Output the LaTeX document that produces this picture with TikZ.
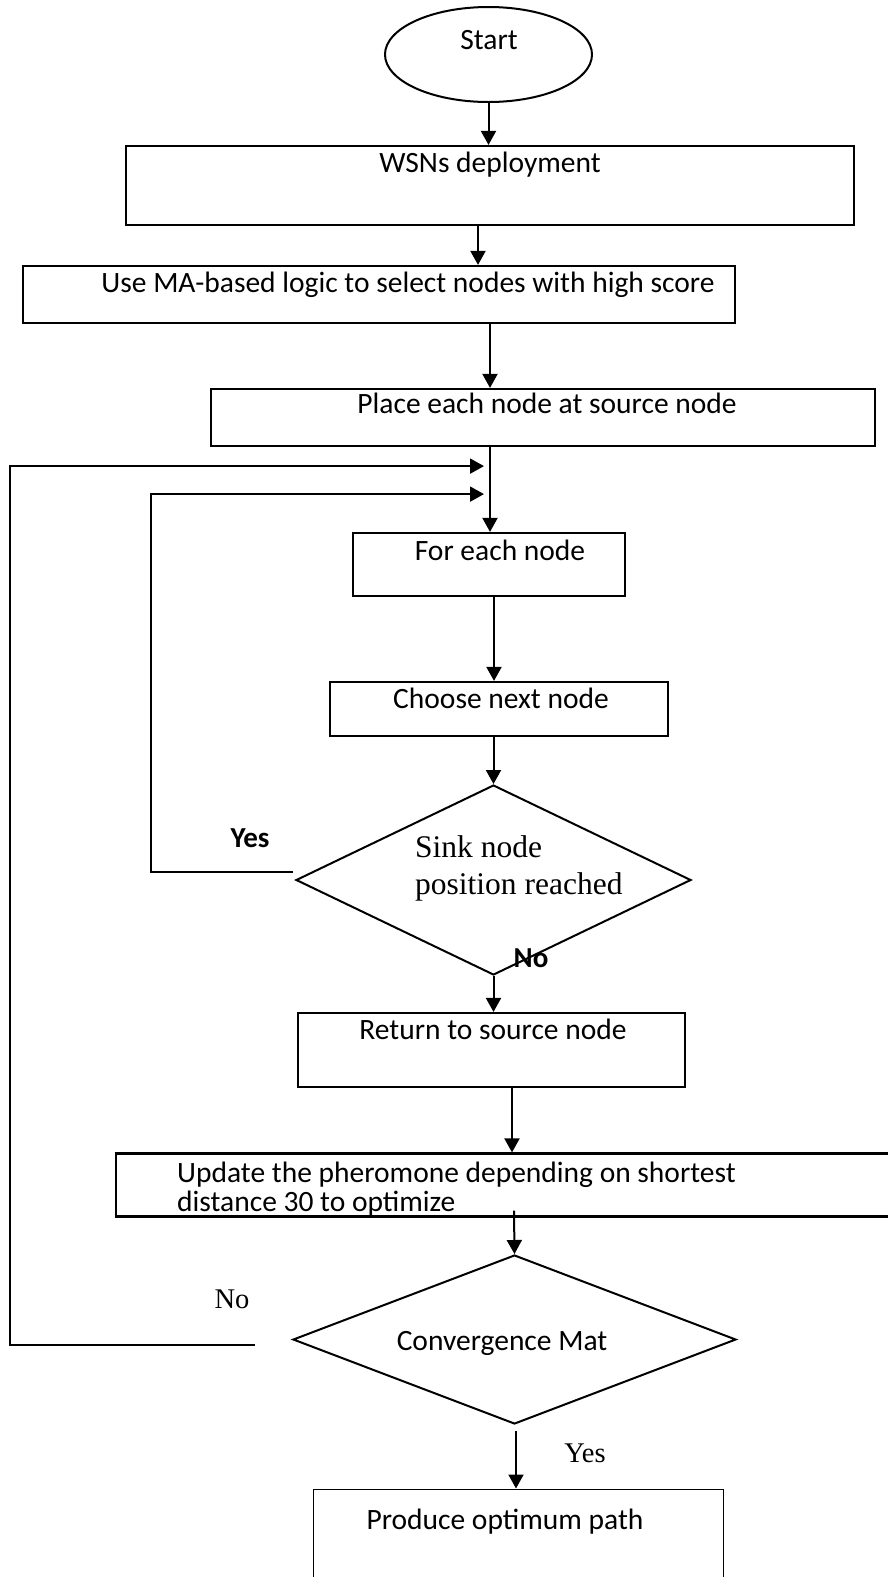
\documentclass[tikz,border=0pt]{standalone}
\usepackage{fontspec}
\setmainfont{Carlito}
\newfontfamily\serifface{Liberation Serif}
\usetikzlibrary{shapes.geometric,arrows.meta}

\begin{document}
\begin{tikzpicture}[x=1pt,y=-1pt,
  stepbox/.style={draw, rectangle, line width=2.2pt, inner sep=0pt},
  decision/.style={draw, diamond, line width=2pt, inner sep=0pt},
  txt/.style={inner sep=0pt, anchor=base, font=\fontsize{29.5}{31}\selectfont},
  stxt/.style={inner sep=0pt, anchor=base, font=\serifface\fontsize{28.5}{31}\selectfont},
  btxt/.style={inner sep=0pt, anchor=base, font=\bfseries\fontsize{29}{31}\selectfont},
  arr/.style={line width=2pt, -{Triangle[length=14pt,width=15pt]}}]

\useasboundingbox (0,0) rectangle (888,1577);
\clip (0,0) rectangle (888,1577);
\fill[white] (0,0) rectangle (888,1577);

% shapes
\node[draw, ellipse, line width=2pt, inner sep=0pt, minimum width=207pt, minimum height=95pt] (start) at (488.5,54.5) {};
\node[stepbox, minimum width=728pt, minimum height=79pt] (wsn) at (490,185.5) {};
\node[stepbox, minimum width=712pt, minimum height=57pt] (ma) at (379,294.5) {};
\node[stepbox, minimum width=664pt, minimum height=57pt] (place) at (543,417.5) {};
\node[stepbox, minimum width=272pt, minimum height=63pt] (each) at (489,564.5) {};
\node[stepbox, minimum width=338pt, minimum height=54pt] (choose) at (499,709) {};
\node[decision, minimum width=395pt, minimum height=190pt] (sink) at (493.5,880) {};
\node[stepbox, minimum width=387pt, minimum height=74pt] (ret) at (491.5,1050) {};
\node[stepbox, minimum width=884pt, minimum height=63pt] (upd) at (558,1185) {};
\node[decision, minimum width=443pt, minimum height=169pt] (conv) at (514.5,1339.5) {};
\node[draw, rectangle, line width=1pt, inner sep=0pt, minimum width=410pt, minimum height=120pt] (prod) at (518,1549) {};

% texts
\node[txt] (tstart) at (489,49) {Start};
\node[txt] (twsn) at (490,172) {WSNs deployment};
\node[txt] (tma) at (408,292) {Use MA-based logic to select nodes with high score};
\node[txt] (tplace) at (547,413) {Place each node at source node};
\node[txt] (teach) at (500,560) {For each node};
\node[txt] (tchoose) at (501,708) {Choose next node};
\node[inner sep=0pt, anchor=base west, font=\serifface\fontsize{31.5}{36}\selectfont] (tsink1) at (415,857) {Sink node};
\node[inner sep=0pt, anchor=base west, font=\serifface\fontsize{31.5}{36}\selectfont] (tsink2) at (415,894) {position reached};
\node[btxt] (tyes1) at (250,847) {Yes};
\node[btxt] (tno1) at (531,967) {No};
\node[txt] (tret) at (493,1039) {Return to source node};
\node[txt, anchor=base west] (tupd1) at (177,1182) {Update the pheromone depending on shortest};
\node[txt, anchor=base west] (tupd2) at (177,1211) {distance 30 to optimize};
\node[txt] (tconv) at (502,1350) {Convergence Mat};
\node[stxt] (tno2) at (232,1308) {No};
\node[stxt] (tyes2) at (585,1462) {Yes};
\node[txt] (tprod) at (505,1529) {Produce optimum path};

% connectors
\draw[arr] (start.south) -- ([xshift=-1.5pt]wsn.north);
\draw[arr] ([xshift=-12pt]wsn.south) -- ([xshift=99pt]ma.north);
\draw[arr] ([xshift=111pt]ma.south) -- ([xshift=-53pt]place.north);
\draw[arr] ([xshift=-53pt]place.south) -- ([xshift=1pt]each.north);
\draw[arr] ([xshift=5pt]each.south) -- ([xshift=-5pt]choose.north);
\draw[arr] ([xshift=-5.5pt]choose.south) -- (sink.north);
\draw[arr] (sink.south) -- ([xshift=2pt]ret.north);
\draw[arr] ([xshift=20.5pt]ret.south) -- ([xshift=-46pt]upd.north);
\draw[arr] ([xshift=-44pt,yshift=7pt]upd.south) -- (conv.north);
\draw[arr] ([xshift=1.5pt,yshift=-6pt]conv.south) -- ([xshift=-2pt]prod.north);

% feedback loops
\draw[arr] ([xshift=-2pt,yshift=8pt]sink.west) -- ++(-142,0) |- ([xshift=-59pt,yshift=-47pt]place.south);
\draw[arr] ([xshift=-37pt,yshift=-5.5pt]conv.west) -- ++(-245,0) |- ([xshift=-59pt,yshift=-19pt]place.south);

\end{tikzpicture}
\end{document}
